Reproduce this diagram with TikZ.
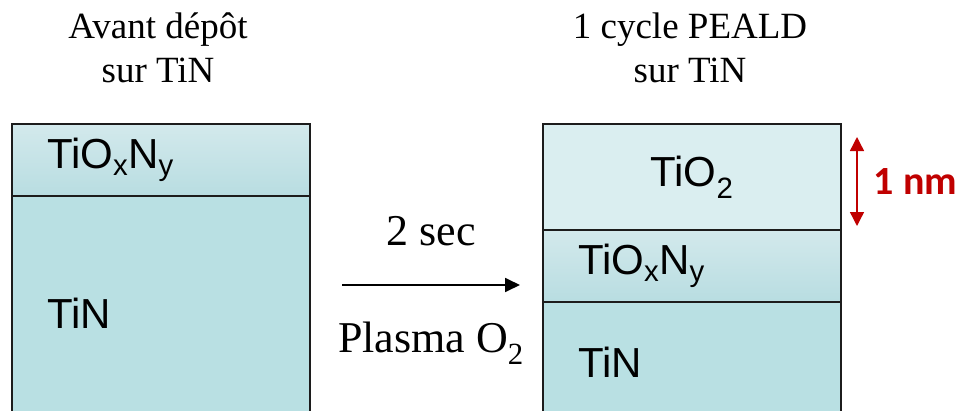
\documentclass[tikz,border=0pt]{standalone}
\usepackage{fontspec}
\setmainfont{Liberation Serif}
\setsansfont{Liberation Sans}
\newfontfamily\nmfont{Carlito}
\usepackage{xcolor}
\usetikzlibrary{arrows.meta, positioning}

\definecolor{tinfill}{HTML}{B9E0E3}
\definecolor{oxytop}{HTML}{D3E9EC}
\definecolor{oxybot}{HTML}{B8DDE1}
\definecolor{tiofill}{HTML}{DAEEF0}
\definecolor{nmred}{HTML}{C00000}
\definecolor{edge}{HTML}{1C1C1C}

\begin{document}
\begin{tikzpicture}[
	x=1pt, y=-1pt,
	layer/.style={draw=edge, line width=1.8pt, rectangle, outer sep=0pt, minimum width=298pt, text width=228pt, inner xsep=35pt, inner ysep=0pt, align=left, font=\sffamily\fontsize{42}{48}\selectfont},
	oxylayer/.style={layer, top color=oxytop, middle color=oxytop, bottom color=oxybot, minimum height=72pt},
	tinlayer/.style={layer, fill=tinfill},
	title/.style={align=center, inner sep=0pt, font=\fontsize{37}{44}\selectfont},
	label/.style={inner sep=0pt, font=\fontsize{44}{48}\selectfont},
	arrow/.style={-{Triangle[length=15pt, width=14pt]}, line width=1.8pt},
	nmarrow/.style={{Triangle[length=14pt, width=14pt]}-{Triangle[length=14pt, width=14pt]}, line width=1.4pt, nmred}
]
	\useasboundingbox (0,0) rectangle (962,410);

	% avant depot
	\node (before) [title, anchor=north] at (158,13) {Avant dépôt\\sur TiN};
	\node (oxyL) [oxylayer, anchor=north west] at (12,124) {TiO\textsubscript{x}N\textsubscript{y}};
	\node (tinL) [tinlayer, minimum height=234pt, below=0pt of oxyL] {TiN};

	% apres un cycle
	\node (after) [title, anchor=north] at (690,13) {1 cycle PEALD\\sur TiN};
	\node (tioR) [layer, fill=tiofill, minimum height=106pt, align=center, anchor=north west] at (543,124) {TiO\textsubscript{2}};
	\node (oxyR) [oxylayer, below=0pt of tioR] {TiO\textsubscript{x}N\textsubscript{y}};
	\node (tinR) [tinlayer, minimum height=120pt, below=0pt of oxyR] {TiN};

	% plasma
	\coordinate (plasmastart) at (342,285);
	\coordinate (plasmaend) at (520,285);
	\draw [arrow] (plasmastart) -- node[label, above=38pt] {2 sec} node[label, below=36pt] {Plasma O\textsubscript{2}} (plasmaend);

	% epaisseur
	\coordinate (nmtop) at (857,137);
	\coordinate (nmbot) at (857,226);
	\draw [nmarrow] (nmtop) -- node[right=16pt, inner sep=0pt, text=nmred, font=\nmfont\bfseries\fontsize{40}{44}\selectfont] {1 nm} (nmbot);
\end{tikzpicture}
\end{document}
